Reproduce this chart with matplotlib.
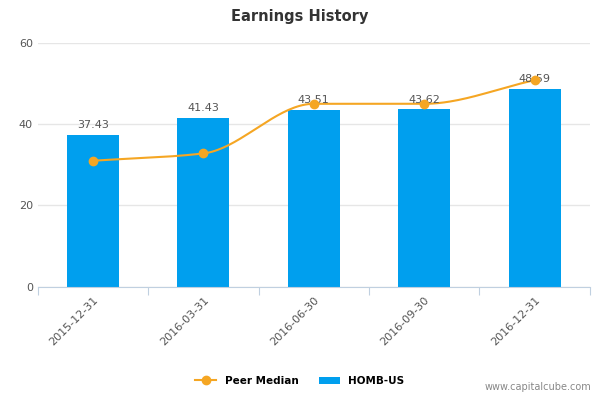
import matplotlib
matplotlib.use("Agg")
import matplotlib.pyplot as plt
import numpy as np

categories = ["2015-12-31", "2016-03-31", "2016-06-30", "2016-09-30", "2016-12-31"]
homb = [37.43, 41.43, 43.51, 43.62, 48.59]
peer = [31.0, 32.8, 45.0, 45.0, 50.8]
yticks = [0, 20, 40, 60]

def pchip(x, y, n=40):
    x = np.asarray(x, float); y = np.asarray(y, float)
    h = np.diff(x); d = np.diff(y) / h
    m = np.zeros_like(y)
    for k in range(1, len(y) - 1):
        if d[k-1] * d[k] > 0:
            m[k] = 2 / (1/d[k-1] + 1/d[k])
    m[0] = d[0]; m[-1] = d[-1]
    xs, ys = [], []
    for k in range(len(h)):
        t = np.linspace(0, 1, n)
        h00 = 2*t**3 - 3*t**2 + 1; h10 = t**3 - 2*t**2 + t
        h01 = -2*t**3 + 3*t**2; h11 = t**3 - t**2
        xs.append(x[k] + t*h[k])
        ys.append(h00*y[k] + h10*h[k]*m[k] + h01*y[k+1] + h11*h[k]*m[k+1])
    return np.concatenate(xs), np.concatenate(ys)

fig = plt.figure(figsize=(6, 4), dpi=100)
ax = fig.add_axes([0.063, 0.283, 0.92, 0.61])
x = np.arange(len(categories))
ax.bar(x, homb, width=0.47, color="#009fee", zorder=2, label="HOMB-US")
sx, sy = pchip(x, peer)
ax.plot(sx, sy, color="#f5a623", lw=1.5, zorder=3)
ax.plot(x, peer, "o", color="#f5a623", ms=6, zorder=4)
ax.plot([], [], "-o", color="#f5a623", label="Peer Median")
for xi, v in zip(x, homb):
    ax.text(xi, v + 1.2, f"{v:.2f}", ha="center", va="bottom", fontsize=8, color="#555555")
ax.set_xlim(-0.5, len(categories) - 0.5)
ax.set_ylim(0, 60)
ax.set_yticks(yticks)
ax.set_xticks(np.arange(-0.5, len(categories), 1), minor=False)
ax.set_xticklabels([""] * (len(categories) + 1))
ax.set_xticks(x, minor=True)
ax.set_xticklabels(categories, minor=True, rotation=45, ha="right", rotation_mode="anchor", fontsize=8, color="#555555")
ax.tick_params(axis="x", which="minor", length=0, pad=6)
ax.tick_params(axis="x", which="major", length=6, color="#c0d0e0")
ax.tick_params(axis="y", length=0, labelsize=8, labelcolor="#555555")
for s in ["top", "right", "left"]:
    ax.spines[s].set_visible(False)
ax.spines["bottom"].set_color("#c0d0e0")
ax.grid(axis="y", color="#e6e6e6", lw=1, zorder=0)
fig.text(0.5, 0.96, "Earnings History", ha="center", va="center", fontsize=10.5, color="#333333", weight="bold")
fig.legend(loc="center", bbox_to_anchor=(0.5, 0.048), ncol=2, frameon=False, fontsize=7.5,
           handlelength=2, prop={"weight": "bold", "size": 7.5})
fig.text(0.985, 0.02, "www.capitalcube.com", ha="right", va="bottom", fontsize=7, color="#888888")
fig.savefig("out.png", dpi=100)
